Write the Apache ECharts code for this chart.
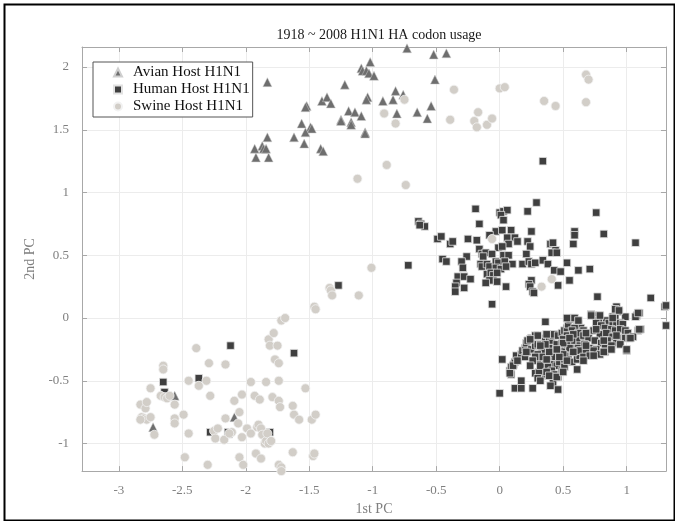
<!DOCTYPE html>
<html>
<head>
<meta charset="utf-8">
<script src="https://cdn.jsdelivr.net/npm/echarts@6/dist/echarts.min.js"></script>
<style>
html,body{margin:0;padding:0;background:#fff;}
#c{width:675px;height:521px;}
</style>
</head>
<body>
<div id="c"></div>
<script>
const titleText = '1918 ~ 2008 H1N1 HA codon usage';
const seriesNames = ['Avian Host H1N1', 'Human Host H1N1', 'Swine Host H1N1'];
const xRange = [-3.29, 1.31];
const yRange = [-1.22, 2.16];

const avian = [
[-0.73,2.15],[-0.52,2.10],[-0.42,2.11],[-1.02,2.04],[-1.09,1.99],[-1.08,1.97],[-1.05,1.97],[-1.03,1.95],[-0.99,1.93],
[-1.83,1.88],[-1.22,1.86],[-0.51,1.90],[-0.82,1.81],[-0.76,1.78],[-0.84,1.74],[-0.92,1.73],[-1.04,1.76],[-1.05,1.74],
[-1.40,1.73],[-1.36,1.76],[-1.33,1.71],[-1.52,1.69],[-1.53,1.68],[-1.19,1.65],[-1.14,1.64],[-1.09,1.61],[-1.25,1.58],
[-1.25,1.57],[-1.17,1.56],[-1.17,1.54],[-0.81,1.63],[-0.65,1.64],[-0.54,1.69],[-0.57,1.59],[-1.56,1.55],[-1.49,1.52],
[-1.48,1.51],[-1.53,1.48],[-1.06,1.48],[-1.06,1.47],[-1.83,1.44],[-1.62,1.44],[-1.54,1.39],[-1.93,1.35],[-1.87,1.37],
[-1.86,1.35],[-1.84,1.35],[-1.92,1.28],[-1.82,1.28],[-1.41,1.35],[-1.39,1.33],
[-2.73,-0.87],[-2.56,-0.62],[-2.09,-0.79],[-2.14,-0.92]
];

const human = [
[-2.65,-0.51],[-2.64,-0.59],[-2.37,-0.48],[-2.12,-0.22],[-1.62,-0.28],[-1.81,-0.91],[-2.28,-0.91],[-2.14,-0.91],
[-1.27,0.26],[-0.72,0.42],[0.34,1.25],
[0.29,0.92],[-0.19,0.87],[0.00,0.84],[0.03,0.85],[0.06,0.86],[0.01,0.82],[0.22,0.85],[0.76,0.84],[0.03,0.78],[-0.16,0.75],
[-0.64,0.77],[-0.62,0.75],[-0.59,0.73],[-0.63,0.74],[-0.03,0.69],[0.02,0.70],[0.09,0.70],[-0.08,0.66],[0.25,0.69],
[0.59,0.69],[0.59,0.66],[0.82,0.67],[-0.49,0.63],[-0.46,0.65],[-0.39,0.59],[-0.37,0.61],[-0.25,0.63],[-0.18,0.62],
[0.06,0.64],[0.12,0.64],[0.14,0.61],[0.07,0.59],[0.22,0.61],[0.24,0.57],[0.58,0.59],[0.40,0.59],[0.42,0.60],[0.44,0.54],
[0.41,0.52],[0.45,0.52],[1.07,0.60],[-0.16,0.55],[-0.01,0.56],[0.02,0.57],[-0.14,0.51],[-0.11,0.52],[-0.13,0.49],
[-0.06,0.51],[0.03,0.50],[0.07,0.50],[0.21,0.51],[-0.45,0.47],[-0.42,0.45],[-0.26,0.49],[-0.30,0.45],[-0.15,0.43],
[-0.14,0.41],[-0.10,0.43],[-0.08,0.41],[-0.03,0.45],[-0.01,0.44],[0.04,0.45],[0.10,0.43],[0.18,0.43],[0.23,0.45],
[0.25,0.43],[0.28,0.44],[0.34,0.46],[0.38,0.43],[0.53,0.44],[-0.29,0.40],[-0.03,0.40],[0.01,0.39],[0.05,0.41],
[0.43,0.38],[0.48,0.37],[0.62,0.38],[0.71,0.39],[-0.10,0.35],[-0.07,0.36],[-0.05,0.34],[-0.02,0.36],[-0.33,0.33],
[-0.28,0.33],[-0.23,0.31],[-0.08,0.30],[-0.02,0.29],[-0.11,0.28],[0.55,0.30],[0.25,0.30],[0.23,0.27],[0.24,0.25],
[0.26,0.21],[0.27,0.20],[-0.34,0.28],[-0.35,0.25],[-0.28,0.24],[0.05,0.25],[0.46,0.26],[-0.35,0.21],[-0.06,0.11],
[0.77,0.17],[1.19,0.16],[1.30,0.09],[1.31,0.10],[1.31,-0.06],[0.36,-0.03],
[0.08,-0.42],[0.09,-0.39],[0.11,-0.37],[0.09,-0.45],[0.12,-0.35],[0.14,-0.33],[0.13,-0.30],[0.17,-0.29],[0.18,-0.26],
[0.20,-0.24],[0.21,-0.20],[0.22,-0.18],[0.25,-0.16],[0.28,-0.14],[0.30,-0.14],[0.20,-0.31],[0.22,-0.27],[0.25,-0.25],
[0.28,-0.22],[0.30,-0.21],[0.32,-0.21],[0.36,-0.16],[0.37,-0.13],[0.39,-0.16],[0.41,-0.18],[0.42,-0.14],[0.43,-0.13],
[0.46,-0.14],[0.49,-0.12],[0.51,-0.10],[0.53,-0.08],[0.54,-0.05],[0.55,-0.01],[0.58,0.00],[0.61,-0.02],[0.62,-0.05],
[0.64,-0.08],[0.66,-0.10],[0.59,-0.08],[0.57,-0.10],[0.53,-0.14],[0.50,-0.17],[0.49,-0.24],[0.46,-0.26],[0.43,-0.29],
[0.41,-0.31],[0.38,-0.34],[0.36,-0.35],[0.33,-0.37],[0.30,-0.34],[0.42,-0.37],[0.45,-0.38],[0.47,-0.35],[0.51,-0.33],
[0.54,-0.30],[0.57,-0.27],[0.59,-0.24],[0.62,-0.21],[0.63,-0.18],[0.66,-0.16],[0.61,-0.16],[0.57,-0.18],[0.53,-0.21],
[0.55,-0.24],[0.38,-0.39],[0.41,-0.42],[0.43,-0.45],[0.46,-0.47],[0.42,-0.49],[0.38,-0.46],[0.34,-0.45],[0.49,-0.42],
[0.51,-0.39],[0.57,-0.35],[0.61,-0.33],[0.63,-0.30],[0.64,-0.26],[0.62,-0.12],[0.58,-0.13],[0.50,-0.29],[0.47,-0.31],
[0.37,-0.27],[0.33,-0.26],[0.30,-0.29],[0.28,-0.31],[0.26,-0.34],[0.24,-0.38],[0.34,-0.31],[0.39,-0.24],[0.45,-0.21],
[0.39,-0.27],[0.49,-0.20],[0.36,-0.21],[0.42,-0.52],[0.40,-0.54],
[0.02,-0.33],[0.00,-0.60],[0.12,-0.56],[0.17,-0.56],[0.17,-0.50],[0.26,-0.56],[0.46,-0.57],[0.28,-0.44],[0.31,-0.43],
[0.30,-0.48],[0.32,-0.50],
[0.92,0.09],[0.94,0.05],[0.89,0.01],[0.91,0.00],[0.99,0.01],[1.08,0.02],[1.10,0.04],[1.07,0.01],[0.72,0.03],[0.78,0.02],
[0.78,-0.02],[0.84,-0.02],[0.86,-0.04],[0.89,-0.04],[0.92,-0.05],[0.95,-0.04],[0.97,-0.05],[0.76,-0.04],[0.80,-0.06],
[0.83,-0.08],[0.88,-0.09],[0.91,-0.10],[0.95,-0.09],[0.99,-0.10],[1.01,-0.12],[1.09,-0.10],[1.11,-0.09],[0.74,-0.10],
[0.79,-0.13],[0.84,-0.12],[0.68,-0.12],[0.66,-0.14],[0.70,-0.16],[0.89,-0.15],[0.93,-0.16],[0.99,-0.16],[1.02,-0.16],
[1.05,-0.15],[0.75,-0.18],[0.80,-0.20],[0.85,-0.18],[0.92,-0.20],[0.67,-0.21],[0.71,-0.24],[0.76,-0.25],[0.83,-0.24],
[0.88,-0.22],[0.95,-0.21],[1.00,-0.26],[0.63,-0.26],[0.68,-0.27],[0.74,-0.26],[0.79,-0.29],[0.66,-0.31],[0.71,-0.30],
[0.83,-0.27],[0.91,0.07],[0.94,0.06],[0.72,0.02],
[0.08,-0.44],[0.105,-0.38],[0.14,-0.34],[0.21,-0.27],[0.32,-0.38],[0.37,-0.43],[0.39,-0.46],[0.45,-0.47],[0.50,-0.43],
[0.61,-0.41],[0.66,-0.34],[0.74,-0.30],[0.82,-0.27],[0.88,-0.25],[1.00,-0.25],[0.24,-0.17],[0.37,-0.13],[0.53,0.00],
[0.59,0.00],[0.62,-0.02],[0.79,0.02],[0.89,0.00],[1.09,0.04],[1.10,-0.09],[1.03,-0.16],[0.50,-0.20],[0.55,-0.16],
[0.68,-0.12],[0.76,-0.09],[0.58,-0.27],[0.45,-0.25],[0.32,-0.22],[0.68,-0.22],[0.82,-0.18],[0.92,-0.14],[0.37,-0.33],
[0.53,-0.34]
];

const swine = [
[-3.30,-0.97],[-2.83,-0.69],[-2.79,-0.72],[-2.78,-0.67],[-2.75,-0.56],[-2.82,-0.79],[-2.80,-0.80],[-2.78,-0.81],
[-2.83,-0.81],[-2.75,-0.79],[-2.72,-0.93],[-2.65,-0.38],[-2.65,-0.41],[-2.67,-0.62],[-2.64,-0.63],[-2.62,-0.64],
[-2.60,-0.62],[-2.56,-0.69],[-2.56,-0.80],[-2.56,-0.84],[-2.48,-1.11],[-2.49,-0.77],[-2.45,-0.92],[-2.45,-0.50],
[-2.39,-0.24],[-2.37,-0.54],[-2.31,-0.50],[-2.29,-0.36],[-2.28,-0.62],[-2.30,-1.17],[-2.25,-0.90],[-2.22,-0.88],
[-2.24,-0.96],[-2.17,-0.97],[-2.16,-0.80],[-2.16,-0.37],[-2.11,-0.91],[-2.13,-0.92],[-2.09,-0.66],[-2.06,-0.84],
[-2.05,-0.75],[-2.03,-0.95],[-2.03,-0.61],[-2.05,-1.11],[-2.02,-1.17],[-1.99,-0.88],[-1.96,-0.51],[-1.96,-0.92],
[-1.93,-0.62],[-1.91,-0.87],[-1.90,-0.85],[-1.88,-0.88],[-1.89,-0.65],[-1.92,-1.08],[-1.88,-1.12],[-1.87,-0.93],
[-1.85,-1.00],[-1.84,-0.98],[-1.83,-0.92],[-1.84,-0.51],[-1.82,-0.17],[-1.81,-0.22],[-1.82,-1.00],[-1.80,-0.98],
[-1.79,-0.63],[-1.78,-0.12],[-1.77,-0.33],[-1.75,-0.22],[-1.74,-0.50],[-1.74,-0.36],[-1.74,-0.66],[-1.73,-0.71],
[-1.74,-1.17],[-1.72,-1.19],[-1.72,-1.22],[-1.72,-0.02],[-1.69,0.00],[-1.63,-0.70],[-1.63,-1.07],[-1.62,-0.77],
[-1.58,-0.81],[-1.53,-0.56],[-1.48,-0.81],[-1.45,-0.77],[-1.47,-1.10],[-1.46,-1.08],[-1.46,0.09],[-1.45,0.07],
[-1.34,0.24],[-1.33,0.22],[-1.32,0.18],[-1.11,0.18],[-1.01,0.40],[-1.12,1.11],[-0.89,1.22],[-0.74,1.06],[-0.75,1.74],
[-0.91,1.63],[-0.82,1.55],[-0.36,1.82],[-0.39,1.58],[-0.17,1.64],[-0.20,1.57],[-0.18,1.52],[-0.10,1.54],[-0.06,1.59],
[0.00,1.83],[0.04,1.84],[0.35,1.73],[0.44,1.69],[0.68,1.94],[0.70,1.90],[0.68,1.72],[-0.06,0.63],[0.41,0.31],[0.33,0.25]
];

const FONT = '"Liberation Serif", "Times New Roman", serif';
const AXIS_COLOR = '#a8a8a8';
const LABEL_COLOR = '#7f7f7f';

function halfStep(v) {
  const r = Math.round(v * 2) / 2;
  return Math.abs(v - r) < 1e-6 ? String(r) : '';
}

function mkAxis(range, pos, main, extra) {
  return Object.assign({
    type: 'value', min: range[0], max: range[1], position: pos,
    axisLine: { show: true, onZero: false, lineStyle: { color: AXIS_COLOR, width: 1 } },
    axisTick: { show: true, inside: true, length: 5, lineStyle: { color: AXIS_COLOR } },
    axisLabel: main ? { show: true, color: LABEL_COLOR, fontFamily: FONT, fontSize: 13, margin: 13, formatter: halfStep }
                    : { show: false },
    splitLine: { show: main, lineStyle: { color: '#ececec', width: 1 } }
  }, extra);
}

const chart = echarts.init(document.getElementById('c'), null, { renderer: 'canvas' });
chart.setOption({
  backgroundColor: '#fff',
  animation: false,
  title: {
    text: titleText, left: 374, top: 23, textAlign: 'center',
    textStyle: { fontFamily: FONT, fontSize: 14, fontWeight: 'normal', color: '#1a1a1a' }
  },
  grid: { left: 82, right: 9, top: 47, bottom: 45, containLabel: false },
  legend: {
    orient: 'vertical', left: 93, top: 62, itemWidth: 8, itemHeight: 8, itemGap: 2,
    padding: [3, 3, 3, 20], borderColor: '#555', borderWidth: 1, backgroundColor: '#fff',
    textStyle: { fontFamily: FONT, fontSize: 15, color: '#111', padding: [0, 0, 0, 6] },
    data: seriesNames
  },
  xAxis: [
    mkAxis(xRange, 'bottom', true, { splitNumber: 9, name: '1st PC', nameLocation: 'middle', nameGap: 28,
      nameTextStyle: { fontFamily: FONT, fontSize: 14, color: LABEL_COLOR } }),
    mkAxis(xRange, 'top', false, { splitNumber: 9 })
  ],
  yAxis: [
    mkAxis(yRange, 'left', true, { splitNumber: 6, name: '2nd PC', nameLocation: 'middle', nameGap: 40,
      nameTextStyle: { fontFamily: FONT, fontSize: 14, color: LABEL_COLOR } }),
    mkAxis(yRange, 'right', false, { splitNumber: 6 })
  ],
  series: [
    { name: seriesNames[0], type: 'scatter', symbol: 'triangle', symbolSize: 9, data: avian,
      itemStyle: { color: '#6e6e6e', borderColor: '#cfcfcf', borderWidth: 0.5, opacity: 1 } },
    { name: seriesNames[1], type: 'scatter', symbol: 'rect', symbolSize: 7.5, data: human,
      itemStyle: { color: '#3f3f3f', borderColor: '#e2e2e2', borderWidth: 0.8, opacity: 1 } },
    { name: seriesNames[2], type: 'scatter', symbol: 'circle', symbolSize: 9, data: swine,
      itemStyle: { color: '#d2cec8', borderColor: '#f2f2f2', borderWidth: 0.8, opacity: 1 } }
  ],
  graphic: [{
    type: 'rect', left: 2, top: 2, shape: { width: 670, height: 516 },
    style: { fill: 'none', stroke: '#000', lineWidth: 2 }, silent: true
  }]
});
</script>
</body>
</html>
